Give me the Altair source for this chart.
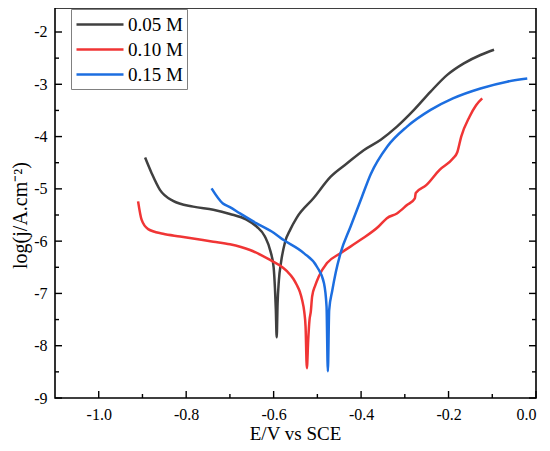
import altair as alt
import pandas as pd

series_names = ["0.05 M", "0.10 M", "0.15 M"]
series_colors = ["#404040", "#f03535", "#1c6ee0"]

e_005 = [-0.894, -0.879, -0.860, -0.830, -0.784, -0.738, -0.700, -0.662, -0.639, -0.620,
         -0.607, -0.600, -0.597, -0.595, -0.593, -0.591, -0.588, -0.583, -0.574, -0.562,
         -0.547, -0.509, -0.470, -0.432, -0.394, -0.355, -0.318, -0.279, -0.241, -0.203,
         -0.165, -0.127, -0.096]
j_005 = [-4.40, -4.70, -5.02, -5.23, -5.34, -5.40, -5.48, -5.59, -5.72, -5.91,
         -6.20, -6.50, -6.90, -7.30, -7.84, -7.20, -6.75, -6.40, -6.02, -5.78,
         -5.55, -5.18, -4.77, -4.51, -4.26, -4.06, -3.81, -3.49, -3.14, -2.82,
         -2.60, -2.44, -2.34]

e_010 = [-0.910, -0.902, -0.887, -0.853, -0.814, -0.738, -0.700, -0.654, -0.608, -0.580,
         -0.569, -0.555, -0.547, -0.540, -0.535, -0.530, -0.527, -0.524, -0.521, -0.518,
         -0.515, -0.512, -0.505, -0.497, -0.478, -0.447, -0.402, -0.360, -0.341, -0.318,
         -0.295, -0.277, -0.275, -0.251, -0.221, -0.190, -0.180, -0.171, -0.152, -0.137,
         -0.123]
j_010 = [-5.24, -5.59, -5.77, -5.86, -5.91, -6.01, -6.06, -6.17, -6.36, -6.50,
         -6.58, -6.72, -6.84, -6.97, -7.12, -7.35, -7.63, -8.43, -7.90, -7.51,
         -7.35, -7.06, -6.85, -6.68, -6.42, -6.23, -5.98, -5.72, -5.56, -5.47,
         -5.31, -5.18, -5.08, -4.93, -4.64, -4.42, -4.30, -4.00, -3.62, -3.40,
         -3.27]

e_015 = [-0.742, -0.716, -0.700, -0.677, -0.639, -0.600, -0.577, -0.531, -0.501, -0.485,
         -0.479, -0.476, -0.473, -0.466, -0.458, -0.447, -0.424, -0.398, -0.378, -0.340,
         -0.295, -0.241, -0.190, -0.127, -0.066, -0.020]
j_015 = [-4.99, -5.28, -5.35, -5.47, -5.66, -5.84, -5.98, -6.23, -6.49, -6.80,
         -7.25, -8.49, -7.32, -6.95, -6.60, -6.23, -5.72, -5.15, -4.72, -4.19,
         -3.81, -3.49, -3.27, -3.08, -2.95, -2.89]

x_domain = [-1.1, 0.0]
y_domain = [-9.0, -1.541]
x_major = [-1.0, -0.8, -0.6, -0.4, -0.2, 0.0]
x_minor = [-0.9, -0.7, -0.5, -0.3, -0.1]
y_major = [-9, -8, -7, -6, -5, -4, -3, -2]
y_minor = [-8.5, -7.5, -6.5, -5.5, -4.5, -3.5, -2.5]

W, H = 481, 390
MAJOR_PX, MINOR_PX = 7, 4
x_per_px = (x_domain[1] - x_domain[0]) / W
y_per_px = (y_domain[1] - y_domain[0]) / H

rows = []
for name, es, js in zip(series_names, [e_005, e_010, e_015], [j_005, j_010, j_015]):
    for i, (e, j) in enumerate(zip(es, js)):
        rows.append({"series": name, "seg": name, "kind": "curve", "E": e, "logj": j, "idx": i})

# inward frame ticks, each a two-point segment starting on the frame edge
seg_id = 0
for vals, px in [(x_major, MAJOR_PX), (x_minor, MINOR_PX)]:
    for v in vals:
        seg_id += 1
        y0 = y_domain[0]
        rows.append({"series": "tick", "seg": f"t{seg_id}", "kind": "tick", "E": v, "logj": y0, "idx": 0})
        rows.append({"series": "tick", "seg": f"t{seg_id}", "kind": "tick", "E": v,
                     "logj": y0 + px * y_per_px, "idx": 1})
for vals, px in [(y_major, MAJOR_PX), (y_minor, MINOR_PX)]:
    for v in vals:
        for edge, sign in [(x_domain[0], 1), (x_domain[1], -1)]:
            seg_id += 1
            rows.append({"series": "tick", "seg": f"t{seg_id}", "kind": "tick", "E": edge,
                         "logj": v, "idx": 0})
            rows.append({"series": "tick", "seg": f"t{seg_id}", "kind": "tick",
                         "E": edge + sign * px * x_per_px, "logj": v, "idx": 1})
df = pd.DataFrame(rows)

FONT = "Liberation Serif"
xs = alt.Scale(domain=x_domain, nice=False, zero=False)
ys = alt.Scale(domain=y_domain, nice=False, zero=False)

x_label_expr = "datum.value < 0 ? '-' + format(-datum.value, '.1f') : format(datum.value, '.1f')"
y_label_expr = "datum.value < 0 ? '-' + format(-datum.value, 'd') : format(datum.value, 'd')"

x_main_axis = alt.Axis(orient="bottom", values=x_major, labelExpr=x_label_expr, ticks=False,
                       domain=False, grid=False, labelFont=FONT, labelFontSize=16,
                       labelColor="black", labelPadding=8, title="E/V vs SCE",
                       titleFont=FONT, titleFontSize=19, titleFontWeight="normal",
                       titleColor="black", titleX=240, titleY=41,
                       titleBaseline="alphabetic")
y_main_axis = alt.Axis(orient="left", values=y_major, labelExpr=y_label_expr, ticks=False,
                       domain=False, grid=False, labelFont=FONT, labelFontSize=16,
                       labelColor="black", labelPadding=8, title="log(j/A.cm⁻²)",
                       titleFont=FONT, titleFontSize=20, titleFontWeight="normal",
                       titleColor="black", titleX=-25, titleY=207)

chart = alt.Chart(df).mark_line(interpolate="monotone").encode(
    x=alt.X("E:Q", scale=xs, axis=x_main_axis),
    y=alt.Y("logj:Q", scale=ys, axis=y_main_axis),
    color=alt.Color("series:N",
                    scale=alt.Scale(domain=series_names + ["tick"],
                                    range=series_colors + ["black"]),
                    legend=alt.Legend(values=series_names, orient="none", legendX=16,
                                      legendY=1, title=" ", titleFontSize=1,
                                      titlePadding=1, symbolType="stroke",
                                      symbolSize=2209, symbolStrokeWidth=2.5,
                                      clipHeight=19, rowPadding=5, labelFont=FONT,
                                      labelFontSize=19, labelColor="black",
                                      labelOffset=3, padding=4,
                                      strokeColor="#808080", fillColor="white")),
    strokeWidth=alt.StrokeWidth("kind:N",
                                scale=alt.Scale(domain=["curve", "tick"], range=[2.5, 1.4]),
                                legend=None),
    detail="seg:N",
    order="idx:Q",
).properties(
    width=W, height=H,
    autosize=alt.AutoSizeParams(type="none"),
    padding={"left": 47, "top": 0, "right": 5, "bottom": 45},
    background="white",
).configure_view(stroke="black", strokeWidth=1.6)

chart.save("out.html", embed_options={"renderer": "svg", "actions": False})
